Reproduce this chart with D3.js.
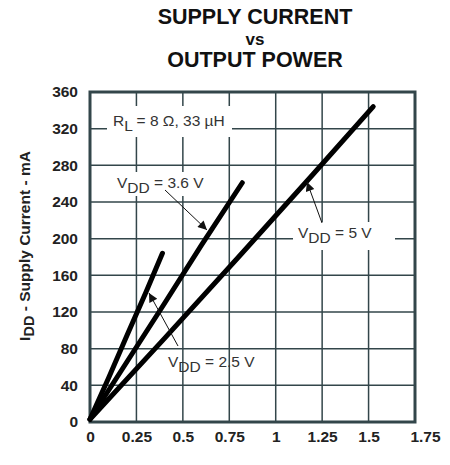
<!DOCTYPE html>
<html>
<head>
<meta charset="utf-8">
<script src="https://cdn.jsdelivr.net/npm/d3@7"></script>
<style>
  body { margin: 0; background: #fff; }
  text { font-family: "Liberation Sans", Arial, sans-serif; }
</style>
</head>
<body>
<div id="vis"></div>
<script>
// values
var xTicks = [0, 0.25, 0.5, 0.75, 1, 1.25, 1.5, 1.75],
    yTicks = [0, 40, 80, 120, 160, 200, 240, 280, 320, 360];

var power25 = [0, 0.1, 0.2, 0.3, 0.39],
    current25 = [3, 48, 95, 141, 184];
var power36 = [0, 0.2, 0.4, 0.6, 0.82],
    current36 = [3, 66, 129, 193, 261];
var power50 = [0, 0.4, 0.8, 1.2, 1.525],
    current50 = [3, 91, 180, 270, 344];

var w = 450, h = 465,
    pLeft = 90, pRight = 415, pTop = 92, pBottom = 422,
    gridColor = "#33464a";

var x = d3.scaleLinear().domain([0, 1.75]).range([pLeft, pRight]),
    y = d3.scaleLinear().domain([0, 360]).range([pBottom, pTop]);

var svg = d3.select("#vis").append("svg")
    .attr("width", w)
    .attr("height", h);

// title
var title = svg.append("g")
    .attr("font-weight", "bold")
    .attr("text-anchor", "middle")
    .attr("fill", "#111");
title.append("text").attr("x", 255).attr("y", 24).attr("font-size", 21.5).text("SUPPLY CURRENT");
title.append("text").attr("x", 255).attr("y", 45).attr("font-size", 17).text("vs");
title.append("text").attr("x", 255).attr("y", 67).attr("font-size", 21.5).text("OUTPUT POWER");

// grid
svg.append("g")
  .selectAll("line")
    .data(xTicks)
  .enter().append("line")
    .attr("x1", function(d) { return x(d); })
    .attr("x2", function(d) { return x(d); })
    .attr("y1", pTop)
    .attr("y2", pBottom)
    .attr("stroke", gridColor)
    .attr("stroke-width", 1.5);

svg.append("g")
  .selectAll("line")
    .data(yTicks)
  .enter().append("line")
    .attr("x1", pLeft)
    .attr("x2", pRight)
    .attr("y1", function(d) { return y(d); })
    .attr("y2", function(d) { return y(d); })
    .attr("stroke", gridColor)
    .attr("stroke-width", 1.5);

// white boxes behind the labels that cut the grid
function box(x0, y0, x1, y1) {
  svg.append("rect")
      .attr("x", x0).attr("y", y0)
      .attr("width", x1 - x0).attr("height", y1 - y0)
      .attr("fill", "#fff");
}
box(107, 106, 232, 137);
box(113, 172, 208, 196);
box(293, 222, 395, 250);

svg.append("rect")
    .attr("x", pLeft)
    .attr("y", pTop)
    .attr("width", pRight - pLeft)
    .attr("height", pBottom - pTop)
    .attr("fill", "none")
    .attr("stroke", gridColor)
    .attr("stroke-width", 3);

// axes
var xAxis = svg.append("g")
    .attr("transform", "translate(0," + pBottom + ")")
    .call(d3.axisBottom(x).tickValues(xTicks).tickSize(0).tickPadding(9)
      .tickFormat(function(d) { return String(d); }));
var yAxis = svg.append("g")
    .attr("transform", "translate(" + pLeft + ",0)")
    .call(d3.axisLeft(y).tickValues(yTicks).tickSize(0).tickPadding(12));

[xAxis, yAxis].forEach(function(a) {
  a.select(".domain").remove();
  a.selectAll("text")
      .attr("font-size", 15.5)
      .attr("font-weight", "bold")
      .attr("fill", "#222")
      .attr("font-family", "Liberation Sans, Arial, sans-serif");
});
xAxis.selectAll("text").filter(function(d) { return d === 1.75; }).attr("dx", 10);

// y title
var yt = svg.append("text")
    .attr("transform", "translate(30,246) rotate(-90)")
    .attr("text-anchor", "middle")
    .attr("font-size", 15.5)
    .attr("font-weight", "bold")
    .attr("fill", "#222");
yt.append("tspan").text("I");
yt.append("tspan").attr("dy", 4).attr("font-size", 14.5).text("DD");
yt.append("tspan").attr("dy", -4).text(" - Supply Current - mA");

// curves
var line = d3.line()
    .x(function(d) { return x(d[0]); })
    .y(function(d) { return y(d[1]); });

[[power25, current25], [power36, current36], [power50, current50]].forEach(function(s) {
  svg.append("path")
      .datum(d3.zip(s[0], s[1]))
      .attr("d", line)
      .attr("fill", "none")
      .attr("stroke", "#000")
      .attr("stroke-width", 5)
      .attr("stroke-linecap", "round");
});

// labels
function label(px, py, sub, rest) {
  var t = svg.append("text")
      .attr("x", px).attr("y", py)
      .attr("font-size", 15.5)
      .attr("fill", "#333");
  t.append("tspan").text(sub[0]);
  t.append("tspan").attr("dy", 5).text(sub[1]);
  t.append("tspan").attr("dy", -5).text(rest);
}
label(113, 126, ["R", "L"], " = 8 \u03A9, 33 \u00B5H");
label(117, 188, ["V", "DD"], " = 3.6 V");
label(298, 238, ["V", "DD"], " = 5 V");
label(168, 367, ["V", "DD"], " = 2.5 V");

// arrows
svg.append("defs").append("marker")
    .attr("id", "head")
    .attr("viewBox", "0 0 10 10")
    .attr("refX", 10).attr("refY", 5)
    .attr("markerWidth", 11).attr("markerHeight", 9)
    .attr("markerUnits", "userSpaceOnUse")
    .attr("orient", "auto")
  .append("path")
    .attr("d", "M0,0L10,5L0,10z")
    .attr("fill", "#111");

function arrow(x0, y0, x1, y1) {
  svg.append("line")
      .attr("x1", x0).attr("y1", y0)
      .attr("x2", x1).attr("y2", y1)
      .attr("stroke", "#111")
      .attr("stroke-width", 1)
      .attr("marker-end", "url(#head)");
}
arrow(165, 190, 207, 230);
arrow(322, 223, 307, 182);
arrow(178, 346, 149, 293);
</script>
</body>
</html>
